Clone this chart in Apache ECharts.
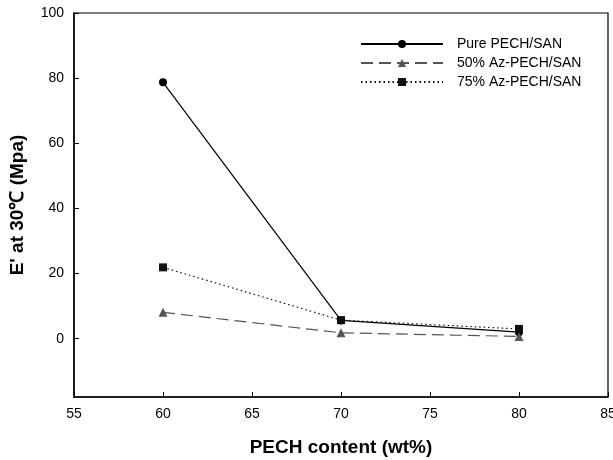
<!DOCTYPE html>
<html><head><meta charset="utf-8">
<script src="https://cdn.jsdelivr.net/npm/echarts@6/dist/echarts.min.js"></script>
<style>html,body{margin:0;padding:0;background:#fff}#c{width:613px;height:460px}</style>
</head><body><div id="c"></div>
<script>
var pechContent = [60, 70, 80];
var pureValues = [78.7, 5.6, 2.0];
var az50Values = [8.1, 1.8, 0.7];
var az75Values = [21.9, 5.7, 3.0];
var seriesNames = ['Pure PECH/SAN', '50% Az-PECH/SAN', '75% Az-PECH/SAN'];
var yTickLabels = [0, 20, 40, 60, 80, 100];

function pairs(vals){ return pechContent.map(function(x,i){ return [x, vals[i]]; }); }

var font = 'Liberation Sans, Arial, sans-serif';
var chart = echarts.init(document.getElementById('c'), null, {renderer:'canvas'});
chart.setOption({
  animation:false,
  backgroundColor:'#fff',
  grid:{left:74, right:5, top:13, bottom:63, show:true, borderColor:'#000', borderWidth:1.2,
        containLabel:false, outerBoundsMode:'none'},
  legend:{
    orient:'vertical', left:355, top:32, itemWidth:82, itemHeight:10, itemGap:5,
    data:seriesNames,
    textStyle:{fontFamily:font, fontSize:14, color:'#000', padding:[0,0,0,9]}
  },
  xAxis:{
    type:'value', min:55, max:85, interval:5,
    name:'PECH content (wt%)', nameLocation:'middle', nameGap:41,
    nameTextStyle:{fontFamily:font, fontSize:19, fontWeight:'bold', color:'#000'},
    axisLine:{onZero:false, lineStyle:{color:'#000', width:1.5}},
    axisTick:{inside:true, length:5, lineStyle:{color:'#000'}},
    axisLabel:{fontFamily:font, fontSize:14, color:'#000', margin:10},
    splitLine:{show:false}
  },
  yAxis:{
    type:'value', min:-17.9, max:100,
    name:"E' at 30℃ (Mpa)", nameLocation:'middle', nameGap:47,
    nameTextStyle:{fontFamily:font, fontSize:19, fontWeight:'bold', color:'#000'},
    axisLine:{onZero:false, lineStyle:{color:'#000', width:1.5}},
    axisTick:{inside:true, length:5, lineStyle:{color:'#000'}, customValues:yTickLabels},
    axisLabel:{fontFamily:font, fontSize:14, color:'#000', margin:10, customValues:yTickLabels},
    splitLine:{show:false}
  },
  series:[
    {name:seriesNames[0], type:'line', data:pairs(pureValues), symbol:'circle', symbolSize:8,
     itemStyle:{color:'#000'}, lineStyle:{color:'#000', width:1.2, type:'solid'}},
    {name:seriesNames[1], type:'line', data:pairs(az50Values), symbol:'triangle', symbolSize:9,
     itemStyle:{color:'#555'}, lineStyle:{color:'#555', width:1.2, type:[12,6]}},
    {name:seriesNames[2], type:'line', data:pairs(az75Values), symbol:'rect', symbolSize:8,
     itemStyle:{color:'#111'}, lineStyle:{color:'#111', width:1.2, type:[1.5,3]}}
  ]
});
</script></body></html>
